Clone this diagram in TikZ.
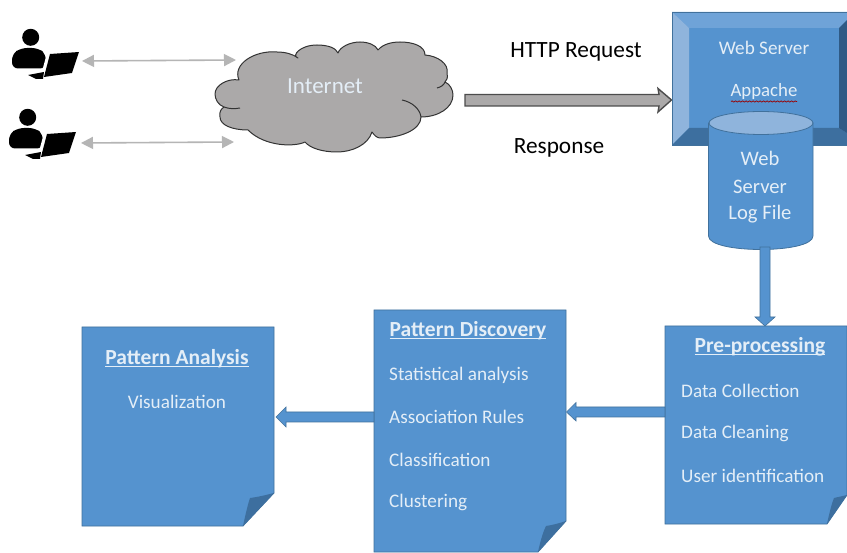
\documentclass[tikz,border=0pt]{standalone}
\usepackage{fontspec}
\setmainfont{Carlito}
\usetikzlibrary{arrows.meta,decorations.pathmorphing}
\definecolor{bluefill}{HTML}{5593CF}
\definecolor{blueline}{HTML}{41719C}
\definecolor{bluedark}{HTML}{3D6F9F}
\definecolor{bluelight}{HTML}{8FB4DC}
\definecolor{bluemid}{HTML}{6FA3D8}
\definecolor{bluedeep}{HTML}{2F5A85}
\definecolor{cloudgray}{HTML}{ABA9A9}
\definecolor{linkgray}{HTML}{B5B5B5}
\definecolor{paletext}{HTML}{E4EEF7}
\tikzset{
 px/.style={x=1pt,y=-1pt},
 paper/.style={fill=bluefill,draw=blueline,line width=0.8pt,line join=miter},
 fold/.style={fill=bluedark},
 tx/.style={text=paletext,font=\fontsize{19.2}{21}\selectfont,inner sep=0pt},
 hd/.style={text=paletext,font=\fontsize{21.5}{24}\selectfont\bfseries,inner sep=0pt},
 blk/.style={text=black,font=\fontsize{23.3}{26}\selectfont,inner sep=0pt},
 link/.style={draw=linkgray,line width=1.6pt,{Triangle[length=12pt,width=12pt]}-{Triangle[length=12pt,width=12pt]}},
 bluearrow/.style={draw=blueline,line width=0.6pt,fill=bluefill,line join=miter},
}
\newcommand{\person}[2]{%
 \begin{scope}[shift={(#1,#2)}]
  \fill[black] (30.7,37.3) circle (8.5);
  \fill[black,rounded corners=6pt] (12,68.5) -- (12,54) -- (21,48) -- (38,48) -- (46,54) -- (46,68.5) -- cycle;
  \fill[white] (47,53) -- (50,53) -- (43,79) -- (40,79) -- cycle;
  \fill[white] (38,70) -- (47,70) -- (44,74) -- (38,74) -- cycle;
  \fill[black] (50,54) -- (79,52) -- (72,73) -- (44,77) -- cycle;
  \fill[black] (28,75) -- (44,72) -- (43,79) -- (36,79) -- cycle;
 \end{scope}}
\begin{document}
\begin{tikzpicture}[px]
\useasboundingbox (0,0) rectangle (847,553);
\fill[white] (0,0) rectangle (847,553);
% people
\person{0}{0}
\person{-3}{80}
\coordinate (pa) at (82,61);
\coordinate (pb) at (81,143);
\coordinate (ca) at (236,60);
\coordinate (cb) at (234,142);
\draw[link] (pa) -- (ca);
\draw[link] (pb) -- (cb);
% cloud
\draw[fill=cloudgray,draw=black!80,line width=1pt,line join=round]
 (239,80) .. controls (232,64) and (255,50) .. (277,52)
 .. controls (285,52) and (293,54) .. (298,58)
 .. controls (291,56) and (300,45) .. (317,45)
 .. controls (328,45) and (336,48) .. (338,53)
 .. controls (340,47) and (350,42) .. (360,42)
 .. controls (368,42) and (376,45) .. (378,50)
 .. controls (383,44) and (392,42) .. (400,42)
 .. controls (413,42) and (425,46) .. (425,55)
 .. controls (438,56) and (449,64) .. (447,73)
 .. controls (448,78) and (447,80) .. (445,82)
 .. controls (450,84) and (453,90) .. (453,95)
 .. controls (453,108) and (438,117) .. (421,117)
 .. controls (421,130) and (400,138) .. (380,138)
 .. controls (377,138) and (374,135) .. (372,132)
 .. controls (368,145) and (352,152) .. (337,152)
 .. controls (322,152) and (310,148) .. (305,142)
 .. controls (295,147) and (265,147) .. (248,130)
 .. controls (232,130) and (220,125) .. (220,117)
 .. controls (219,112) and (221,109) .. (224,107)
 .. controls (218,105) and (215,99) .. (215,94)
 .. controls (215,85) and (228,78) .. (239,80) -- cycle;
\draw[black!80,line width=1pt] (224,107) .. controls (229,109) and (235,109) .. (240,108);
\draw[black!80,line width=1pt] (402,100) .. controls (412,102) and (420,109) .. (421,117);
\draw[black!80,line width=1pt] (437,88) .. controls (441,87) and (444,85) .. (445,82);
\node[inner sep=0pt,text=paletext,font=\fontsize{23}{26}\selectfont] (inet) at (325,86) {Internet};
% http arrow
\coordinate (hs) at (465,100);
\coordinate (he) at (671,100);
\draw[fill=cloudgray,draw=black!70,line width=1.4pt,line join=miter]
 (465,94.5) -- (659,94.5) -- (658,88.5) -- (671.5,100) -- (658,112) -- (659,106) -- (465,106) -- cycle;
\node[blk] (http) at (576,52) {HTTP Request};
\node[blk] (resp) at (559,148) {Response};
% web server bevel
\path[fill=bluefill] (672,12) rectangle (847,145);
\fill[bluemid] (672,12) -- (847,12) -- (847,20) -- (839,28) -- (689,28) -- cycle;
\fill[bluelight] (672,12) -- (689,28) -- (689,128) -- (672,145) -- cycle;
\fill[bluedark] (672,145) -- (689,128) -- (839,128) -- (847,133) -- (847,145) -- cycle;
\fill[bluedeep] (839,28) -- (847,20) -- (847,133) -- (839,128) -- cycle;
\draw[blueline,line width=0.8pt] (847,12) -- (672,12) -- (672,145) -- (847,145);
\node[tx] (ws) at (764,48) {Web Server};
\node[tx,font=\fontsize{18.8}{21}\selectfont] (ap) at (764,91.5) {Appache};
\draw[red!60!black,line width=0.7pt,decorate,decoration={snake,amplitude=0.6pt,segment length=3.5pt}] (731,101.5) -- (797,101.5);
% cylinder
\path[fill=bluefill,draw=blueline,line width=0.8pt] (708.5,123) -- (708.5,236)
  .. controls (708.5,254) and (813,254) .. (813,236) -- (813,123) -- cycle;
\fill[bluelight,draw=blueline,line width=0.8pt] (761,123) ellipse (52 and 11.5);
\coordinate (cylb) at (765,247);
\node[tx,font=\fontsize{20.6}{23}\selectfont] (c1) at (760,158) {Web};
\node[tx,font=\fontsize{20.6}{23}\selectfont] (c2) at (760,187) {Server};
\node[tx,font=\fontsize{20.6}{23}\selectfont] (c3) at (760,214) {Log File};
% papers
\draw[paper] (665,326) -- (847,326) -- (847,495) -- (827,524) -- (665,524) -- cycle;
\fill[fold] (827,524) .. controls (830,510) and (832,503) .. (834,498) .. controls (838,497) and (843,496) .. (847,495) -- cycle;
\draw[paper] (374,310) -- (566,310) -- (566,521) -- (538,552) -- (374,552) -- cycle;
\fill[fold] (538,552) .. controls (541,538) and (544,530) .. (546,526) .. controls (553,525) and (560,523) .. (566,521) -- cycle;
\draw[paper] (82,327) -- (274,327) -- (274,493) -- (243,526) -- (82,526) -- cycle;
\fill[fold] (243,526) .. controls (246,512) and (248,504) .. (250,498) .. controls (258,497) and (266,495) .. (274,493) -- cycle;
\coordinate (pp) at (765,326);
\coordinate (ppl) at (665,410);
\coordinate (pdr) at (566,410);
\coordinate (pdl) at (374,416);
\coordinate (par) at (274,416);
% blue arrows
\draw[bluearrow] (760,247) -- (770,247) -- (770,317) -- (775,317) -- (765,326) -- (755,317) -- (760,317) -- cycle;
\draw[bluearrow] (665,407) -- (576,407) -- (576,402.5) -- (566.5,412) -- (576,421) -- (576,417) -- (665,417) -- cycle;
\draw[bluearrow] (374,412) -- (286,412) -- (286,407) -- (276,417) -- (286,427) -- (286,422) -- (374,422) -- cycle;
% texts
\node[hd] (h1) at (760,346) {\underbar{Pre-processing}};
\node[tx,anchor=west] (p1) at (681,391) {Data Collection};
\node[tx,anchor=west] (p2) at (681,433) {Data Cleaning};
\node[tx,anchor=west] (p3) at (681,476) {User identification};
\node[hd] (h2) at (468,330) {\underbar{Pattern Discovery}};
\node[tx,anchor=west] (d1) at (389,375) {Statistical analysis};
\node[tx,anchor=west] (d2) at (389,417) {Association Rules};
\node[tx,anchor=west] (d3) at (389,460) {Classification};
\node[tx,anchor=west] (d4) at (389,502) {Clustering};
\node[hd] (h3) at (177,358) {\underbar{Pattern Analysis}};
\node[tx] (a1) at (177,402) {Visualization};
\end{tikzpicture}
\end{document}
